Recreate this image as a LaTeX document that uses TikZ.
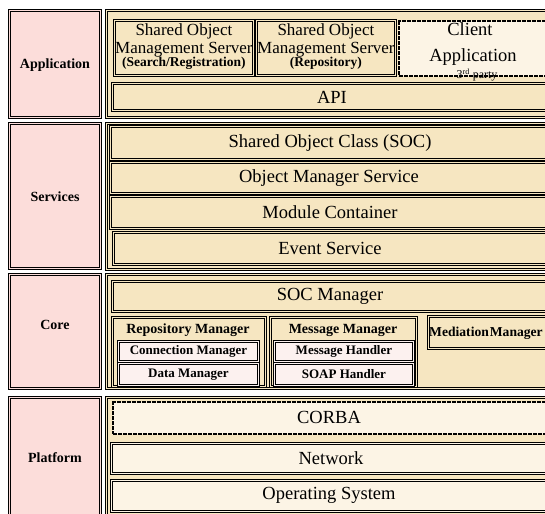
\documentclass[tikz,border=0pt]{standalone}
\usepackage{fontspec}
\setmainfont{Liberation Serif}
\definecolor{labelpink}{HTML}{FCDDDA}
\definecolor{layertan}{HTML}{F6E6C1}
\definecolor{cream}{HTML}{FCF4E5}
\definecolor{palepink}{HTML}{FCF1EF}
\tikzset{
  box/.style={draw=black, fill=#1, double=#1, double distance=0.7pt,
    line width=0.85pt, rectangle, inner sep=0pt, anchor=north west},
  dotbox/.style={draw=black, fill=#1, line width=1.7pt,
    dash pattern=on 1.9pt off 0.6pt, rectangle, inner sep=0pt, anchor=north west},
  layertxt/.style={font=\bfseries\fontsize{14}{14}\selectfont, inner sep=0pt},
  maintxt/.style={font=\fontsize{18.5}{18.5}\selectfont, inner sep=0pt},
  headtxt/.style={font=\bfseries\fontsize{14}{14}\selectfont, inner sep=0pt},
  subtxt/.style={font=\bfseries\fontsize{13}{13}\selectfont, inner sep=0pt},
}
\begin{document}
\begin{tikzpicture}[x=1pt, y=-1pt]
\useasboundingbox (0,0) rectangle (545,513);
\clip (0,0) rectangle (545,513);

% layer names on the left
\node[box=labelpink, minimum width=91pt, minimum height=107pt] (appL)  at (9,10)  {};
\node[box=labelpink, minimum width=91pt, minimum height=145pt] (svcL)  at (9,123) {};
\node[box=labelpink, minimum width=91pt, minimum height=114pt] (coreL) at (9,274) {};
\node[box=labelpink, minimum width=91pt, minimum height=130pt] (platL) at (9,397) {};
\node[layertxt] at (55,65)  {Application};
\node[layertxt] at (55,197) {Services};
\node[layertxt] at (55,325) {Core};
\node[layertxt] at (55,458) {Platform};

% layer containers
\node[box=layertan, minimum width=460pt, minimum height=107pt] (appC)  at (106,10)  {};
\node[box=layertan, minimum width=460pt, minimum height=146pt] (svcC)  at (106,123) {};
\node[box=layertan, minimum width=460pt, minimum height=114pt] (coreC) at (106,274) {};
\node[box=layertan, minimum width=460pt, minimum height=130pt] (platC) at (106,397) {};

% Application layer
\node[box=layertan, minimum width=139pt, minimum height=55pt] (soms1) at (114,20) {};
\node[box=layertan, minimum width=139pt, minimum height=55pt] (soms2) at (256,20) {};
\node[dotbox=cream, minimum width=190pt, minimum height=55pt] (client) at (398,20) {};
\node[box=layertan, minimum width=450pt, minimum height=27pt] (api) at (112,83) {};

\node[inner sep=0pt, align=center, font=\fontsize{17}{17.5}\selectfont]
  at ([yshift=1pt]soms1.center) {Shared Object\\Management Server\\[-4pt]
  {\bfseries\fontsize{13.5}{13.5}\selectfont (Search/Registration)}};
\node[inner sep=0pt, align=center, font=\fontsize{17}{17.5}\selectfont]
  at ([yshift=1pt]soms2.center) {Shared Object\\Management Server\\[-4pt]
  {\bfseries\fontsize{13.5}{13.5}\selectfont (Repository)}};
\node[maintxt, anchor=base] at (470,36) {Client};
\node[maintxt, anchor=base] at (473,62) {Application};
\node[inner sep=0pt, anchor=base, font=\fontsize{12}{12}\selectfont] at (477,79) {3\textsuperscript{rd} party};
\node[maintxt] at (332,97) {API};

% Services layer
\node[box=layertan, minimum width=452pt, minimum height=33pt] (soc) at (110,126) {};
\node[box=layertan, minimum width=452pt, minimum height=31pt] (oms) at (110,162) {};
\node[box=layertan, minimum width=452pt, minimum height=32pt] (mc)  at (110,196) {};
\node[box=layertan, minimum width=450pt, minimum height=32pt] (es)  at (113,232) {};
\node[maintxt] at (330,143) {Shared Object Class (SOC)};
\node[maintxt] at (329,178) {Object Manager Service};
\node[maintxt] at (330,212) {Module Container};
\node[maintxt] at (330,248) {Event Service};

% Core layer
\node[box=layertan, minimum width=450pt, minimum height=30pt] (socm) at (112,281) {};
\node[maintxt] at (330,296) {SOC Manager};

\node[box=layertan, minimum width=153pt, minimum height=69pt] (repo) at (112,317) {};
\node[box=palepink, minimum width=140pt, minimum height=20pt] (conn) at (118,341) {};
\node[box=palepink, minimum width=140pt, minimum height=22pt] (data) at (118,363) {};
\node[headtxt] at (188,330) {Repository Manager};
\node[subtxt] at (conn.center) {Connection Manager};
\node[subtxt] at (data.center) {Data Manager};

\node[box=layertan, minimum width=146pt, minimum height=69pt] (msg) at (270,317) {};
\node[box=palepink, minimum width=139pt, minimum height=20pt] (mh)   at (274,341) {};
\node[box=palepink, minimum width=139pt, minimum height=22pt] (soap) at (274,363) {};
\node[headtxt] at (343,330) {Message Manager};
\node[subtxt] at (mh.center) {Message Handler};
\node[subtxt] at (soap.center) {SOAP Handler};

\node[box=layertan, minimum width=140pt, minimum height=32pt] (med) at (428,316) {};
\node[headtxt, anchor=west, font=\bfseries\fontsize{13.6}{13.6}\selectfont]
  at (429,333) {Mediation\hspace{1pt}Manager};

% Platform layer
\node[dotbox=cream, minimum width=452pt, minimum height=32pt] (corba) at (112,401) {};
\node[box=cream, minimum width=452pt, minimum height=30pt] (net) at (111,443) {};
\node[box=cream, minimum width=452pt, minimum height=31pt] (os)  at (111,480) {};
\node[maintxt] at (329,417) {CORBA};
\node[maintxt] at (331,458) {Network};
\node[maintxt] at (329,495) {Operating System};
\end{tikzpicture}
\end{document}
